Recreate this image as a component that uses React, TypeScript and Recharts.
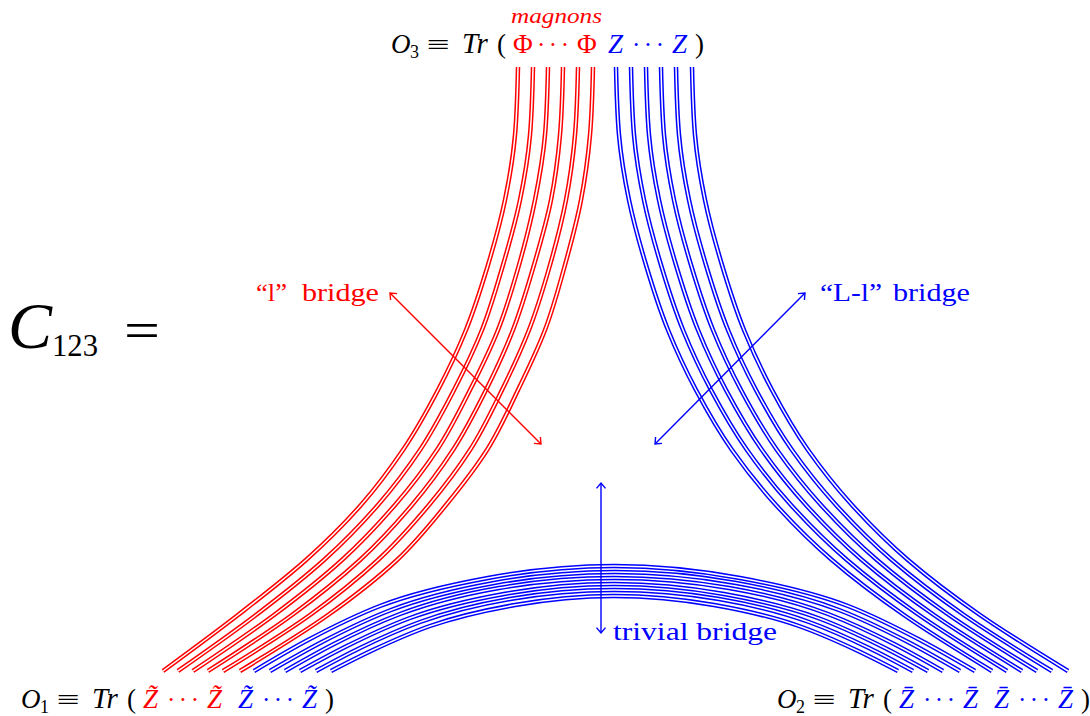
import React from "react";
import { ComposedChart, Line, XAxis, YAxis, Customized } from "recharts";

type Pt = { x: number; y: number };

const RED = "#ff0000";
const BLUE = "#0000ff";
const FONT = "'Liberation Serif', 'DejaVu Serif', serif";

// y levels at which the x position of each strand was read
const strandLevels = [67, 135, 200, 265, 330, 390, 450, 505, 560, 615, 671];

// left bundle (red), outer to inner
const red1 = [518, 515, 505, 488, 466, 438, 403, 361, 306, 238, 163];
const red2 = [533, 530, 520, 503, 482, 454, 420, 378, 324, 256, 178];
const red3 = [548, 545, 535, 519, 498, 470, 437, 395, 342, 274, 193];
const red4 = [563, 560, 551, 534, 513, 486, 453, 412, 360, 292, 208];
const red5 = [578, 575, 566, 550, 529, 502, 470, 429, 378, 310, 223];
const red6 = [593, 590, 581, 565, 545, 518, 487, 446, 397, 328, 240];

// right bundle (blue), inner to outer
const blue1 = [616, 619, 629, 646, 668, 696, 732, 776, 832, 904, 992];
const blue2 = [631, 634, 644, 661, 683, 711, 747, 791, 847, 919, 1007];
const blue3 = [646, 649, 659, 676, 698, 726, 762, 806, 862, 934, 1022];
const blue4 = [661, 664, 674, 691, 713, 741, 777, 821, 877, 949, 1037];
const blue5 = [676, 679, 689, 706, 728, 756, 792, 836, 892, 964, 1052];
const blue6 = [692, 695, 705, 722, 744, 772, 808, 852, 908, 980, 1068];

// bottom bundle (blue arcs), outer to inner
const arc1: Pt[] = [
  { x: 254, y: 671 }, { x: 308, y: 640 }, { x: 380, y: 606 }, { x: 488, y: 578 }, { x: 614, y: 566 },
  { x: 740, y: 578 }, { x: 848, y: 606 }, { x: 920, y: 640 }, { x: 975, y: 671 },
];
const arc2: Pt[] = [
  { x: 270, y: 671 }, { x: 322, y: 642 }, { x: 391, y: 610 }, { x: 494, y: 583 }, { x: 615, y: 572 },
  { x: 736, y: 583 }, { x: 839, y: 610 }, { x: 908, y: 642 }, { x: 960, y: 671 },
];
const arc3: Pt[] = [
  { x: 285, y: 671 }, { x: 334, y: 644 }, { x: 400, y: 614 }, { x: 499, y: 588 }, { x: 614, y: 578 },
  { x: 729, y: 588 }, { x: 828, y: 614 }, { x: 894, y: 644 }, { x: 943, y: 671 },
];
const arc4: Pt[] = [
  { x: 300, y: 671 }, { x: 347, y: 646 }, { x: 410, y: 618 }, { x: 504, y: 594 }, { x: 614, y: 584 },
  { x: 724, y: 594 }, { x: 818, y: 618 }, { x: 881, y: 646 }, { x: 928, y: 671 },
];
const arc5: Pt[] = [
  { x: 316, y: 671 }, { x: 360, y: 648 }, { x: 420, y: 622 }, { x: 510, y: 599 }, { x: 614, y: 590 },
  { x: 719, y: 599 }, { x: 809, y: 622 }, { x: 869, y: 648 }, { x: 913, y: 671 },
];
const arc6: Pt[] = [
  { x: 331, y: 671 }, { x: 373, y: 650 }, { x: 430, y: 626 }, { x: 515, y: 605 }, { x: 614, y: 596 },
  { x: 714, y: 605 }, { x: 799, y: 626 }, { x: 856, y: 650 }, { x: 898, y: 671 },
];

// arrows: shafts and heads
const lArrow: Pt[] = [{ x: 390, y: 293 }, { x: 541, y: 444 }];
const lHeadA: Pt[] = [{ x: 397, y: 293.6 }, { x: 390, y: 293 }, { x: 390.6, y: 300 }];
const lHeadB: Pt[] = [{ x: 534, y: 443.4 }, { x: 541, y: 444 }, { x: 540.4, y: 437 }];

const llArrow: Pt[] = [{ x: 805, y: 293 }, { x: 655, y: 444 }];
const llHeadA: Pt[] = [{ x: 798, y: 293.6 }, { x: 805, y: 293 }, { x: 804.4, y: 300 }];
const llHeadB: Pt[] = [{ x: 655.6, y: 437 }, { x: 655, y: 444 }, { x: 662, y: 443.4 }];

const tArrow: Pt[] = [{ x: 601, y: 483 }, { x: 601, y: 633 }];
const tHeadA: Pt[] = [{ x: 596.5, y: 488.4 }, { x: 601, y: 483 }, { x: 605.5, y: 488.4 }];
const tHeadB: Pt[] = [{ x: 596.5, y: 627.6 }, { x: 601, y: 633 }, { x: 605.5, y: 627.6 }];

const zip = (xs: number[]): Pt[] => xs.map((x, i) => ({ x, y: strandLevels[i] }));

const redStrands = [red1, red2, red3, red4, red5, red6].map(zip);
const rightStrands = [blue1, blue2, blue3, blue4, blue5, blue6].map(zip);
const arcStrands = [arc1, arc2, arc3, arc4, arc5, arc6];

const doubleLine = (key: string, data: Pt[], color: string, curve: any) => [
  <Line
    key={key + "o"}
    data={data}
    dataKey="y"
    type={curve}
    stroke={color}
    strokeWidth={4.5}
    dot={false}
    activeDot={false}
    isAnimationActive={false}
    strokeLinecap="butt"
  />,
  <Line
    key={key + "i"}
    data={data}
    dataKey="y"
    type={curve}
    stroke="#ffffff"
    strokeWidth={1.5}
    dot={false}
    activeDot={false}
    isAnimationActive={false}
    strokeLinecap="butt"
  />,
];

const single = (key: string, data: Pt[], color: string) => (
  <Line
    key={key}
    data={data}
    dataKey="y"
    type="linear"
    stroke={color}
    strokeWidth={1.4}
    dot={false}
    activeDot={false}
    isAnimationActive={false}
  />
);

type Group = { ch: string; it: boolean; color: string };
type OpLabel = { x0: number; y: number; sub: string; g1: Group; g2: Group };

const opLabels: OpLabel[] = [
  { x0: 391, y: 53, sub: "3", g1: { ch: "Φ", it: false, color: RED }, g2: { ch: "Z", it: true, color: BLUE } },
  { x0: 21, y: 708, sub: "1", g1: { ch: "Z\u0303", it: true, color: RED }, g2: { ch: "Z\u0303", it: true, color: BLUE } },
  { x0: 777, y: 708, sub: "2", g1: { ch: "Z\u0304", it: true, color: BLUE }, g2: { ch: "Z\u0304", it: true, color: BLUE } },
];

const renderGroup = (g: Group, x: number, y: number) => (
  <g fill={g.color}>
    <text x={x} y={y} fontSize={27} fontStyle={g.it ? "italic" : "normal"}>{g.ch}</text>
    <text x={x + 24} y={y} fontSize={25} textLength={32} lengthAdjust="spacing">···</text>
    <text x={x + 64} y={y} fontSize={27} fontStyle={g.it ? "italic" : "normal"}>{g.ch}</text>
  </g>
);

const Labels = () => (
  <g fontFamily={FONT}>
    {/* C_123 = */}
    <text x={8} y={348} fontSize={66} fontStyle="italic" fill="#000">C</text>
    <text x={52} y={356} fontSize={32} fill="#000" textLength={46} lengthAdjust="spacingAndGlyphs">123</text>
    <text x={124} y={348} fontSize={52} fill="#000" textLength={36} lengthAdjust="spacingAndGlyphs">=</text>

    {/* magnons */}
    <text x={511} y={23} fontSize={20} fontStyle="italic" fill={RED} textLength={91} lengthAdjust="spacingAndGlyphs">magnons</text>

    {opLabels.map((o, i) => (
      <g key={i} fill="#000">
        <text x={o.x0} y={o.y} fontSize={27} fontStyle="italic">O</text>
        <text x={o.x0 + 19} y={o.y + 5} fontSize={18}>{o.sub}</text>
        <text x={o.x0 + 36} y={o.y} fontSize={26} textLength={23} lengthAdjust="spacingAndGlyphs">≡</text>
        <text x={o.x0 + 71} y={o.y} fontSize={29} fontStyle="italic">Tr</text>
        <text x={o.x0 + 106} y={o.y} fontSize={27}>(</text>
        {renderGroup(o.g1, o.x0 + 122, o.y)}
        {renderGroup(o.g2, o.x0 + 217, o.y)}
        <text x={o.x0 + 304} y={o.y} fontSize={27}>)</text>
      </g>
    ))}

    {/* bridge labels */}
    <text x={256} y={301} fontSize={26} fill={RED} textLength={31} lengthAdjust="spacingAndGlyphs">“l”</text>
    <text x={302} y={301} fontSize={26} fill={RED} textLength={77} lengthAdjust="spacingAndGlyphs">bridge</text>
    <text x={820} y={301} fontSize={26} fill={BLUE} textLength={62} lengthAdjust="spacingAndGlyphs">“L-l”</text>
    <text x={893} y={301} fontSize={26} fill={BLUE} textLength={77} lengthAdjust="spacingAndGlyphs">bridge</text>
    <text x={613} y={640} fontSize={26} fill={BLUE} textLength={164} lengthAdjust="spacingAndGlyphs">trivial bridge</text>
  </g>
);

export default function App() {
  return (
    <div style={{ position: "absolute", left: 0, top: 0, width: 1090, height: 716, background: "#fff" }}>
      <ComposedChart width={1090} height={716} margin={{ top: 0, right: 0, bottom: 0, left: 0 }}>
        <XAxis type="number" dataKey="x" domain={[0, 1090]} hide allowDataOverflow />
        <YAxis type="number" domain={[0, 716]} reversed hide allowDataOverflow />
        {redStrands.flatMap((d, i) => doubleLine("r" + i, d, RED, "monotoneY"))}
        {rightStrands.flatMap((d, i) => doubleLine("b" + i, d, BLUE, "monotoneY"))}
        {arcStrands.flatMap((d, i) => doubleLine("a" + i, d, BLUE, "monotoneX"))}
        {single("la", lArrow, RED)}
        {single("lha", lHeadA, RED)}
        {single("lhb", lHeadB, RED)}
        {single("lla", llArrow, BLUE)}
        {single("llha", llHeadA, BLUE)}
        {single("llhb", llHeadB, BLUE)}
        {single("ta", tArrow, BLUE)}
        {single("tha", tHeadA, BLUE)}
        {single("thb", tHeadB, BLUE)}
        <Customized component={Labels} />
      </ComposedChart>
    </div>
  );
}
